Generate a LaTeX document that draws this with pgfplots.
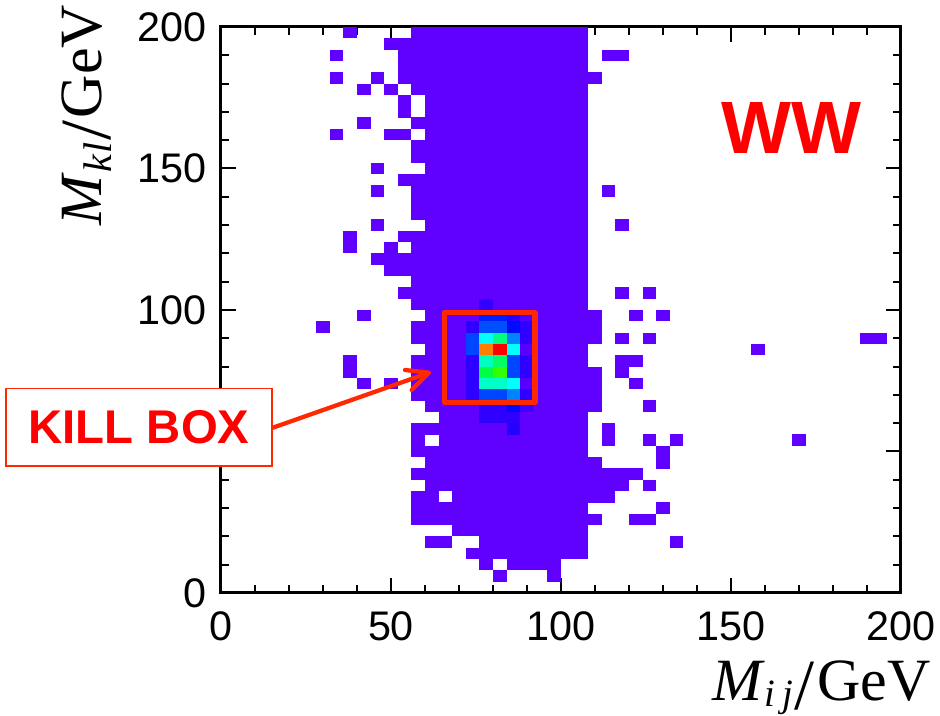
\documentclass[border=0pt]{standalone}
\usepackage{fontspec}
\usepackage{graphicx}
\setmainfont{Liberation Sans}
\newfontfamily\timesf{Liberation Serif}
\usepackage{pgfplots}
\pgfplotsset{compat=1.18}
\definecolor{rootviolet}{RGB}{96,0,255}
\definecolor{boxred}{RGB}{255,40,0}
\pgfdeclareplotmark{cell}{\pgfpathrectangle{\pgfpoint{-5.15pt}{-4.3pt}}{\pgfpoint{10.3pt}{8.6pt}}\pgfusepathqfill}
\newcommand{\bigslash}{\kern1pt\raisebox{-6.5pt}{\scalebox{1.2}{/}}\kern2pt}
\begin{document}
\begin{tikzpicture}
\path[use as bounding box] (-165.75pt,-92.25pt) rectangle (539.25pt,444.75pt);
\begin{axis}[
  at={(0pt,0pt)},anchor=south west,
  scale only axis,width=510pt,height=424.5pt,
  xmin=0,xmax=200,ymin=0,ymax=200,
  clip=false,axis on top,
  xtick={0,50,100,150,200},ytick={0,50,100,150,200},
  minor x tick num=4,minor y tick num=4,
  tick align=inside,
  major tick length=11.25pt,minor tick length=6pt,
  every tick/.style={black,line width=1.5pt},
  axis line style={line width=2.25pt},
  tick label style={font=\fontsize{31}{31}\selectfont,/pgf/number format/assume math mode=true,inner sep=0pt},
  x tick label style={anchor=north,yshift=-14pt},
  y tick label style={anchor=east,xshift=-10.7pt},
  xlabel={\timesf\fontsize{45}{45}\selectfont\textit{M}\raisebox{-4.5pt}{\fontsize{29}{29}\selectfont\textit{i\kern5pt j}}\bigslash GeV},
  ylabel={\timesf\fontsize{45}{45}\selectfont\textit{M}\raisebox{-7pt}{\fontsize{30}{30}\selectfont\textit{k\kern1.5pt l}}\bigslash GeV},
  xlabel style={at={(axis description cs:1.0437,-0.1903)},anchor=base east,inner sep=0pt},
  ylabel style={at={(axis description cs:-0.175,0.6484)},anchor=base west,inner sep=0pt},
  colormap={root}{rgb255=(96,0,255) rgb255=(0,0,255) rgb255=(0,255,255) rgb255=(0,255,0) rgb255=(255,255,0) rgb255=(255,0,0)},
  point meta min=0,point meta max=5,
]
\addplot[only marks,mark=cell,color=rootviolet,mark options={fill=rootviolet,draw=none}] coordinates {
(38,198)(58,198)(62,198)(66,198)(70,198)(74,198)(78,198)(82,198)(86,198)(90,198)(94,198)(98,198)(102,198)(106,198)
(50,194)(54,194)(58,194)(62,194)(66,194)(70,194)(74,194)(78,194)(82,194)(86,194)(90,194)(94,194)(98,194)(102,194)(106,194)
(34,190)(54,190)(58,190)(62,190)(66,190)(70,190)(74,190)(78,190)(82,190)(86,190)(90,190)(94,190)(98,190)(102,190)(106,190)(114,190)(118,190)
(54,186)(58,186)(62,186)(66,186)(70,186)(74,186)(78,186)(82,186)(86,186)(90,186)(94,186)(98,186)(102,186)(106,186)
(34,182)(46,182)(54,182)(58,182)(62,182)(66,182)(70,182)(74,182)(78,182)(82,182)(86,182)(90,182)(94,182)(98,182)(102,182)(106,182)(110,182)
(42,178)(50,178)(58,178)(62,178)(66,178)(70,178)(74,178)(78,178)(82,178)(86,178)(90,178)(94,178)(98,178)(102,178)(106,178)
(54,174)(62,174)(66,174)(70,174)(74,174)(78,174)(82,174)(86,174)(90,174)(94,174)(98,174)(102,174)(106,174)
(54,170)(62,170)(66,170)(70,170)(74,170)(78,170)(82,170)(86,170)(90,170)(94,170)(98,170)(102,170)(106,170)
(42,166)(58,166)(62,166)(66,166)(70,166)(74,166)(78,166)(82,166)(86,166)(90,166)(94,166)(98,166)(102,166)(106,166)
(34,162)(50,162)(54,162)(62,162)(66,162)(70,162)(74,162)(78,162)(82,162)(86,162)(90,162)(94,162)(98,162)(102,162)(106,162)
(58,158)(62,158)(66,158)(70,158)(74,158)(78,158)(82,158)(86,158)(90,158)(94,158)(98,158)(102,158)(106,158)
(58,154)(62,154)(66,154)(70,154)(74,154)(78,154)(82,154)(86,154)(90,154)(94,154)(98,154)(102,154)(106,154)
(46,150)(62,150)(66,150)(70,150)(74,150)(78,150)(82,150)(86,150)(90,150)(94,150)(98,150)(102,150)(106,150)
(54,146)(58,146)(62,146)(66,146)(70,146)(74,146)(78,146)(82,146)(86,146)(90,146)(94,146)(98,146)(102,146)(106,146)
(46,142)(58,142)(62,142)(66,142)(70,142)(74,142)(78,142)(82,142)(86,142)(90,142)(94,142)(98,142)(102,142)(106,142)(114,142)
(58,138)(62,138)(66,138)(70,138)(74,138)(78,138)(82,138)(86,138)(90,138)(94,138)(98,138)(102,138)(106,138)
(58,134)(62,134)(66,134)(70,134)(74,134)(78,134)(82,134)(86,134)(90,134)(94,134)(98,134)(102,134)(106,134)
(46,130)(62,130)(66,130)(70,130)(74,130)(78,130)(82,130)(86,130)(90,130)(94,130)(98,130)(102,130)(106,130)(118,130)
(38,126)(54,126)(58,126)(62,126)(66,126)(70,126)(74,126)(78,126)(82,126)(86,126)(90,126)(94,126)(98,126)(102,126)(106,126)
(38,122)(50,122)(58,122)(62,122)(66,122)(70,122)(74,122)(78,122)(82,122)(86,122)(90,122)(94,122)(98,122)(102,122)(106,122)
(46,118)(50,118)(54,118)(58,118)(62,118)(66,118)(70,118)(74,118)(78,118)(82,118)(86,118)(90,118)(94,118)(98,118)(102,118)(106,118)
(50,114)(54,114)(58,114)(62,114)(66,114)(70,114)(74,114)(78,114)(82,114)(86,114)(90,114)(94,114)(98,114)(102,114)(106,114)
(58,110)(62,110)(66,110)(70,110)(74,110)(78,110)(82,110)(86,110)(90,110)(94,110)(98,110)(102,110)(106,110)
(54,106)(58,106)(62,106)(66,106)(70,106)(74,106)(78,106)(82,106)(86,106)(90,106)(94,106)(98,106)(102,106)(106,106)(118,106)(126,106)
(58,102)(62,102)(66,102)(70,102)(74,102)(78,102)(82,102)(86,102)(90,102)(94,102)(98,102)(102,102)(106,102)
(42,98)(62,98)(66,98)(70,98)(74,98)(78,98)(82,98)(86,98)(90,98)(94,98)(98,98)(102,98)(106,98)(110,98)(122,98)(130,98)
(30,94)(58,94)(62,94)(66,94)(70,94)(74,94)(78,94)(82,94)(86,94)(90,94)(94,94)(98,94)(102,94)(106,94)(110,94)
(58,90)(62,90)(66,90)(70,90)(74,90)(78,90)(82,90)(86,90)(90,90)(94,90)(98,90)(102,90)(106,90)(110,90)(118,90)(126,90)(190,90)(194,90)
(62,86)(66,86)(70,86)(74,86)(78,86)(82,86)(86,86)(90,86)(94,86)(98,86)(102,86)(106,86)(158,86)
(38,82)(58,82)(62,82)(66,82)(70,82)(74,82)(78,82)(82,82)(86,82)(90,82)(94,82)(98,82)(102,82)(106,82)(118,82)(122,82)
(38,78)(58,78)(62,78)(66,78)(70,78)(74,78)(78,78)(82,78)(86,78)(90,78)(94,78)(98,78)(102,78)(106,78)(110,78)(118,78)
(42,74)(50,74)(58,74)(62,74)(66,74)(70,74)(74,74)(78,74)(82,74)(86,74)(90,74)(94,74)(98,74)(102,74)(106,74)(110,74)(122,74)
(58,70)(62,70)(66,70)(70,70)(74,70)(78,70)(82,70)(86,70)(90,70)(94,70)(98,70)(102,70)(106,70)(110,70)
(62,66)(66,66)(70,66)(74,66)(78,66)(82,66)(86,66)(90,66)(94,66)(98,66)(102,66)(106,66)(110,66)(126,66)
(66,62)(70,62)(74,62)(78,62)(82,62)(86,62)(90,62)(94,62)(98,62)(102,62)(106,62)
(58,58)(62,58)(66,58)(70,58)(74,58)(78,58)(82,58)(86,58)(90,58)(94,58)(98,58)(102,58)(106,58)(114,58)
(58,54)(66,54)(70,54)(74,54)(78,54)(82,54)(86,54)(90,54)(94,54)(98,54)(102,54)(106,54)(114,54)(126,54)(134,54)(170,54)
(58,50)(62,50)(66,50)(70,50)(74,50)(78,50)(82,50)(86,50)(90,50)(94,50)(98,50)(102,50)(106,50)(130,50)
(62,46)(66,46)(70,46)(74,46)(78,46)(82,46)(86,46)(90,46)(94,46)(98,46)(102,46)(106,46)(110,46)(130,46)
(58,42)(62,42)(66,42)(70,42)(74,42)(78,42)(82,42)(86,42)(90,42)(94,42)(98,42)(102,42)(106,42)(110,42)(114,42)(118,42)(122,42)
(62,38)(66,38)(70,38)(74,38)(78,38)(82,38)(86,38)(90,38)(94,38)(98,38)(102,38)(106,38)(110,38)(114,38)(118,38)(126,38)
(58,34)(62,34)(70,34)(74,34)(78,34)(82,34)(86,34)(90,34)(94,34)(98,34)(102,34)(106,34)(110,34)(114,34)
(58,30)(62,30)(66,30)(70,30)(74,30)(78,30)(82,30)(86,30)(90,30)(94,30)(98,30)(102,30)(106,30)(130,30)
(58,26)(62,26)(66,26)(70,26)(74,26)(78,26)(82,26)(86,26)(90,26)(94,26)(98,26)(102,26)(106,26)(110,26)(122,26)(126,26)
(70,22)(74,22)(78,22)(82,22)(86,22)(90,22)(94,22)(98,22)(102,22)(106,22)
(62,18)(66,18)(78,18)(82,18)(86,18)(90,18)(94,18)(98,18)(102,18)(106,18)(134,18)
(74,14)(78,14)(82,14)(86,14)(90,14)(94,14)(98,14)(102,14)(106,14)
(78,10)(86,10)(90,10)(94,10)(98,10)
(82,6)(98,6)
};
\addplot[scatter,only marks,mark=cell,point meta=explicit] coordinates {
(78,102) [0.47]
(78,98) [1.12] (82,98) [1.12] (86,98) [0.6] (90,98) [0.12]
(74,94) [0.5] (78,94) [1.31] (82,94) [1.31] (86,94) [1.04] (90,94) [0.53]
(74,90) [1.27] (78,90) [2] (82,90) [2.5] (86,90) [1.51] (90,90) [0.53]
(74,86) [1.27] (78,86) [4.5] (82,86) [5] (86,86) [2] (90,86) [0.08]
(74,82) [0.53] (78,82) [2.25] (82,82) [2.6] (86,82) [1.27] (90,82) [0.53]
(74,78) [0.53] (78,78) [2.73] (82,78) [3.2] (86,78) [1.27] (90,78) [0.53]
(74,74) [0.53] (78,74) [2.22] (82,74) [2.22] (86,74) [2] (90,74) [0.08]
(74,70) [0.53] (78,70) [1.27] (82,70) [1.27] (86,70) [1.51] (90,70) [0.53]
(78,66) [0.5] (82,66) [0.5] (86,66) [1.04] (90,66) [0.3]
(78,62) [0.5] (82,62) [0.5] (86,62) [0.5]
(86,58) [0.6]
};
\end{axis}
\draw[boxred,line width=4pt,line join=round] (167.85pt,142.65pt) rectangle (235.5pt,210.15pt);
\draw[boxred,line width=3.2pt,line cap=round] (38.25pt,123.75pt) -- (155pt,164.8pt);
\draw[boxred,line width=3.2pt,line cap=round,line join=round] (138pt,167.25pt) -- (156pt,165.2pt) -- (143pt,152.25pt);
\node[draw=boxred,line width=1.1pt,fill=white,text=red,inner sep=0pt,minimum width=199.5pt,minimum height=58.3pt,font=\bfseries\fontsize{35.5}{36}\selectfont] at (-61.5pt,124.4pt) {KILL BOX};
\node[text=red,inner sep=0pt,font=\bfseries\fontsize{55.6}{56}\selectfont] at (428pt,348.5pt) {WW};
\end{tikzpicture}
\end{document}
